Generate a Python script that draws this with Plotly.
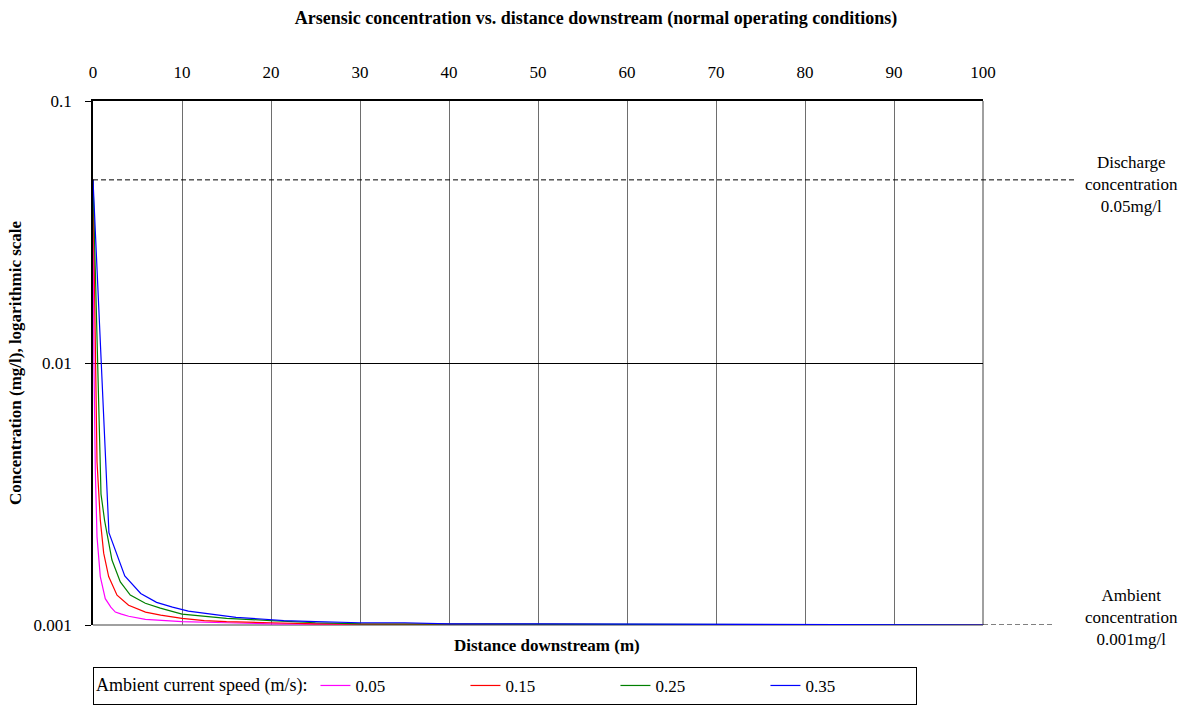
import plotly.graph_objects as go

# Distance downstream (m) and arsenic concentration (mg/l) for each ambient current speed
speeds = ["0.05", "0.15", "0.25", "0.35"]
colors = ["#FF00FF", "#FF0000", "#008000", "#0000FF"]

dist_005 = [0, 0.1, 0.26, 0.45, 0.82, 1.38, 2.0, 2.51, 3.2, 4.01, 5.88, 7.56, 10, 15, 20, 30, 40, 50, 60, 70, 80, 90, 100]
conc_005 = [0.05, 0.0105, 0.0039, 0.00217, 0.00153, 0.00126, 0.00117, 0.00112, 0.0011, 0.00108, 0.00105, 0.00104,
            0.00103, 0.00102, 0.00101, 0.001006, 0.001004, 0.001003, 0.001002, 0.001001, 0.001001, 0.001, 0.001]

dist_015 = [0, 0.45, 0.82, 1.2, 1.76, 2.7, 4.0, 5.9, 7.6, 10, 12.5, 15, 20, 25, 30, 40, 50, 60, 70, 80, 90, 100]
conc_015 = [0.05, 0.0042, 0.00252, 0.00188, 0.00153, 0.0013, 0.00119, 0.00112, 0.00109, 0.00106, 0.00104,
            0.00103, 0.00102, 0.00101, 0.001008, 0.001005, 0.001003, 0.001002, 0.001001, 0.001001, 0.001, 0.001]

dist_025 = [0, 0.9, 1.3, 1.8, 2.13, 3.07, 4.19, 5.88, 7.56, 10, 12.5, 15, 20, 25, 30, 40, 50, 60, 70, 80, 90, 100]
conc_025 = [0.05, 0.00316, 0.00251, 0.00204, 0.00177, 0.00146, 0.0013, 0.00121, 0.00116, 0.0011, 0.00108,
            0.00106, 0.00104, 0.00102, 0.00101, 0.001008, 0.001005, 0.001004, 0.001003, 0.001002, 0.001001, 0.001]

dist_035 = [0, 1.79, 3.57, 5.36, 7.14, 8.93, 10.71, 12.5, 14.29, 16.07, 17.86, 21.43, 25, 30, 35, 40, 50,
            60, 70, 80, 90, 100]
conc_035 = [0.05, 0.00225, 0.00154, 0.00132, 0.00122, 0.00117, 0.00113, 0.00111, 0.00109, 0.00107, 0.00106,
            0.00104, 0.00103, 0.00102, 0.00102, 0.00101, 0.00101, 0.001008, 0.001006, 0.001004, 0.001002, 0.001]

distances = [dist_005, dist_015, dist_025, dist_035]
concentrations = [conc_005, conc_015, conc_025, conc_035]

x_ticks = [0, 10, 20, 30, 40, 50, 60, 70, 80, 90, 100]
y_ticks = [0.001, 0.01, 0.1]
y_tick_text = ["0.001", "0.01", "0.1"]

discharge_level = 0.05
ambient_level = 0.001

FONT = "Liberation Serif, Times New Roman, serif"

fig = go.Figure()
for name, col, xs, ys in zip(speeds, colors, distances, concentrations):
    fig.add_trace(go.Scatter(x=xs, y=ys, mode="lines", name=name,
                             line=dict(color=col, width=1.2)))

# Reference levels: discharge (dashed line across and beyond the plot) and ambient (dashed stub on the right)
fig.add_shape(type="line", xref="paper", yref="y", x0=0, x1=1.103,
              y0=discharge_level, y1=discharge_level,
              line=dict(color="black", width=1, dash="5px,3px"), layer="above")
fig.add_shape(type="line", xref="paper", yref="y", x0=1, x1=1.078,
              y0=ambient_level, y1=ambient_level,
              line=dict(color="black", width=1, dash="5px,3px"), layer="above")

# Grey right and bottom frame edges
fig.add_shape(type="line", xref="paper", yref="paper", x0=1, x1=1, y0=0, y1=1,
              line=dict(color="#808080", width=1.5), layer="below")
fig.add_shape(type="line", xref="paper", yref="paper", x0=0, x1=1, y0=0, y1=0,
              line=dict(color="#808080", width=1.5), layer="below")

fig.add_annotation(text="Discharge<br>concentration<br>0.05mg/l", xref="paper", yref="paper",
                   x=1.167, y=0.8416, showarrow=False, xanchor="center", yanchor="middle",
                   font=dict(family=FONT, size=17, color="black"))
fig.add_annotation(text="Ambient<br>concentration<br>0.001mg/l", xref="paper", yref="paper",
                   x=1.167, y=0.0134, showarrow=False, xanchor="center", yanchor="middle",
                   font=dict(family=FONT, size=17, color="black"))

fig.add_annotation(text="<b>Distance downstream (m)</b>", xref="paper", yref="paper",
                   x=0.51, y=-0.04, showarrow=False, xanchor="center", yanchor="middle",
                   font=dict(family=FONT, size=17, color="black"))

fig.update_layout(
    width=1192, height=708,
    margin=dict(l=93, r=209, t=101, b=83, autoexpand=False),
    paper_bgcolor="white", plot_bgcolor="white",
    font=dict(family=FONT, size=16, color="black"),
    title=dict(text="<b>Arsensic concentration vs. distance downstream (normal operating conditions)</b>",
               x=0.5, xanchor="center", y=0.975, yanchor="middle",
               font=dict(family=FONT, size=18, color="black")),
    xaxis=dict(range=[0, 100], side="top", tickvals=x_ticks, showgrid=True, automargin=False,
               gridcolor="#6e6e6e", gridwidth=1, showline=True, linecolor="black", linewidth=1.5,
               ticks="", ticklabelstandoff=14, zeroline=False,
               tickfont=dict(family=FONT, size=17, color="black")),
    yaxis=dict(type="log", range=[-3, -1], tickvals=y_ticks, ticktext=y_tick_text, automargin=False,
               showgrid=True, gridcolor="black", gridwidth=1, showline=True, linecolor="black",
               linewidth=1.5, ticks="outside", ticklen=6, tickcolor="black", ticklabelstandoff=10,
               zeroline=False, minor=dict(showgrid=False),
               title=dict(text="<b>Concentration (mg/l), logarithmic scale</b>", standoff=8,
                          font=dict(family=FONT, size=17, color="black")),
               tickfont=dict(family=FONT, size=17, color="black")),
    legend=dict(orientation="h", x=0, xanchor="left", y=-0.08, yanchor="top",
                bordercolor="black", borderwidth=1, bgcolor="white",
                title=dict(text="Ambient current speed (m/s):", side="left",
                           font=dict(family=FONT, size=18)),
                entrywidth=105, entrywidthmode="pixels", itemwidth=30,
                font=dict(family=FONT, size=17, color="black")),
    showlegend=True,
)

fig.write_html("out.html")
